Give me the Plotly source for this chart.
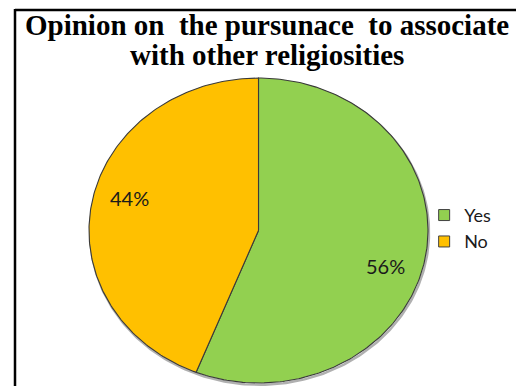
import numpy as np
import plotly.graph_objects as go

# Survey responses
categories = ["Yes", "No"]
shares = [56, 44]
colors = ["#92D050", "#FFC000"]
title_lines = ["Opinion on&nbsp; the pursunace&nbsp; to associate",
               "with other religiosities"]

W, H = 516, 386
CX, CY = 258.5, 230.5      # pie centre (px)
RX, RY = 169.5, 152.5      # horizontal / vertical radii (px)
LABEL_POS = [(385, 266), (129, 198)]
TITLE_Y = [25, 55]

fig = go.Figure()


def ellipse_pt(theta):
    # theta measured clockwise from 12 o'clock, in radians
    return CX + RX * np.sin(theta), CY - RY * np.cos(theta)


# soft shadow under the rim
t = np.linspace(0, 2 * np.pi, 361)
sx, sy = ellipse_pt(t)
fig.add_trace(go.Scatter(x=sx + 1.0, y=sy + 1.8, mode="lines",
                         line=dict(color="rgba(80,80,80,0.45)", width=2.5),
                         hoverinfo="skip", showlegend=False))

total = float(sum(shares))
start = 0.0
for cat, val, col, (lx, ly) in zip(categories, shares, colors, LABEL_POS):
    span = 2 * np.pi * val / total
    th = np.linspace(start, start + span, max(int(val * 4), 20))
    ax, ay = ellipse_pt(th)
    xs = np.concatenate([[CX], ax, [CX]])
    ys = np.concatenate([[CY], ay, [CY]])
    fig.add_trace(go.Scatter(x=xs, y=ys, mode="lines", fill="toself",
                             fillcolor=col, line=dict(color="#3a3a3a", width=1.1),
                             name=cat, hoverinfo="name", showlegend=False))
    fig.add_annotation(x=lx, y=ly, text=f"{val}%", showarrow=False,
                       font=dict(family="Lato", size=20, color="#1a1a1a"))
    start += span

# legend entries
for cat, col in zip(categories, colors):
    fig.add_trace(go.Scatter(x=[None], y=[None], mode="markers", name=cat,
                             marker=dict(symbol="square", size=11, color=col,
                                         line=dict(color="#404040", width=1))))

# two-line chart title
for line, ty in zip(title_lines, TITLE_Y):
    fig.add_annotation(x=266.5, y=ty, text=line, showarrow=False,
                       xanchor="center", yanchor="middle",
                       font=dict(family="Liberation Serif", size=29,
                                 color="black", weight="bold"))

# frame lines along the top and left
fig.add_shape(type="line", x0=15, x1=W, y0=10, y1=10,
              line=dict(color="black", width=2.5))
fig.add_shape(type="line", x0=15, x1=15, y0=9, y1=H,
              line=dict(color="black", width=2.5))

fig.update_layout(
    width=W, height=H,
    margin=dict(l=0, r=0, t=0, b=0),
    paper_bgcolor="white", plot_bgcolor="white",
    xaxis=dict(range=[0, W], visible=False, fixedrange=True),
    yaxis=dict(range=[H, 0], visible=False, fixedrange=True),
    legend=dict(x=0.822, y=0.49, xanchor="left", yanchor="top",
                font=dict(family="Lato", size=18, color="#1a1a1a"),
                itemwidth=30, tracegroupgap=0, bgcolor="rgba(0,0,0,0)"),
    showlegend=True,
)

fig.write_html("out.html")
